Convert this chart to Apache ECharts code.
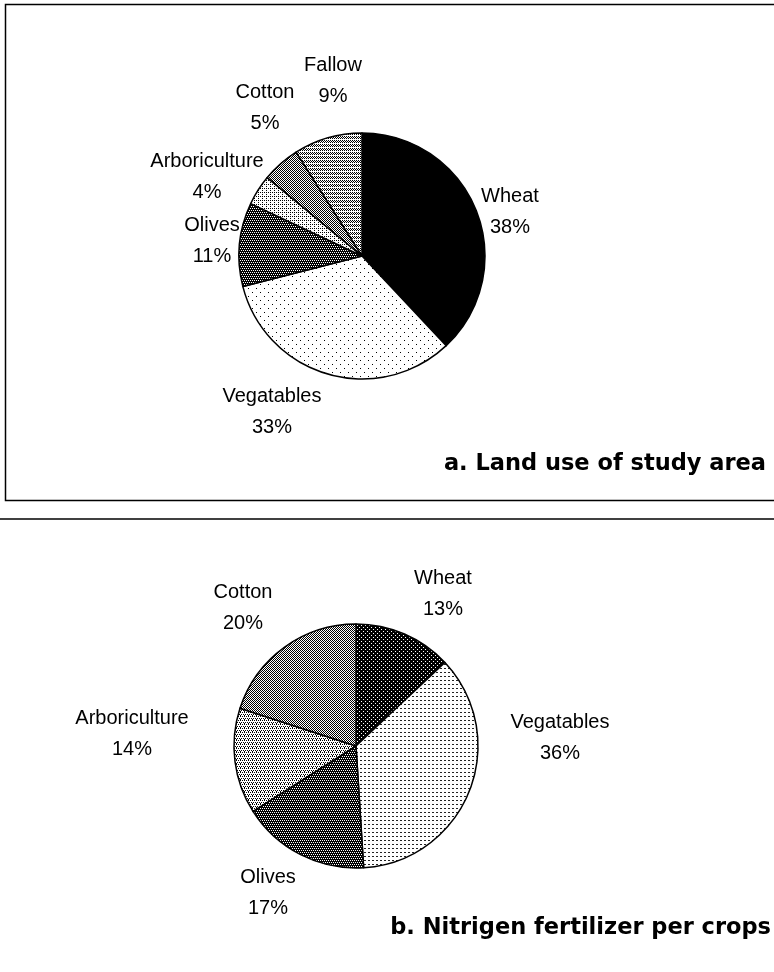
<!DOCTYPE html>
<html>
<head>
<meta charset="utf-8">
<script src="https://cdn.jsdelivr.net/npm/echarts@6/dist/echarts.min.js"></script>
<style>
html,body{margin:0;padding:0;background:#fff;}
#chart{width:774px;height:972px;}
</style>
</head>
<body>
<div id="chart"></div>
<script>
// ---- data ----
const landCategories = ['Wheat', 'Vegatables', 'Olives', 'Arboriculture', 'Cotton', 'Fallow'];
const landShares = [38, 33, 11, 4, 5, 9];
const nitroCategories = ['Wheat', 'Vegatables', 'Olives', 'Arboriculture', 'Cotton'];
const nitroShares = [13, 36, 17, 14, 20];
const titleA = 'a. Land use of study area';
const titleB = 'b. Nitrigen fertilizer per crops';

// ---- layout (positions of labels, kept separate from data) ----
const landLabelPos = [[510, 212], [272, 412], [212, 241], [207, 177], [265, 108], [333, 81]];
const nitroLabelPos = [[443, 594], [560, 738], [268, 893], [132, 734], [243, 608]];

// ---- fill patterns ----
function pattern(w, h, bg, fg, pts) {
  const c = document.createElement('canvas');
  c.width = w; c.height = h;
  const ctx = c.getContext('2d');
  ctx.fillStyle = bg; ctx.fillRect(0, 0, w, h);
  ctx.fillStyle = fg;
  pts.forEach(p => ctx.fillRect(p[0], p[1], 1, 1));
  return { image: c, repeat: 'repeat' };
}
const pSolid = '#000';
const pSparseDots = pattern(8, 8, '#fff', '#000', [[0, 0], [4, 4]]);
const pDarkDots = pattern(4, 4, '#000', '#fff', [[0, 0], [2, 0], [1, 2], [3, 2]]);
const pLightDots = pattern(4, 4, '#fff', '#000', [[0, 0], [2, 2], [2, 0]]);
const pChecker = pattern(2, 2, '#fff', '#000', [[0, 0], [1, 1]]);
const pLightChecker = pattern(4, 4, '#fff', '#000', [[0, 0], [2, 0], [1, 1], [3, 1], [0, 2], [2, 2]]);
const pDarkDash = pattern(4, 4, '#000', '#fff', [[1, 1], [3, 3]]);
const pGreyDash = pattern(4, 4, '#fff', '#222', [[0, 0], [1, 0]]);
const pStipple = pattern(4, 4, '#fff', '#000', [[0, 0], [2, 0], [1, 2], [3, 2], [0, 3]]);

const landFills = [pSolid, pSparseDots, pDarkDots, pLightDots, pChecker, pLightChecker];
const nitroFills = [pDarkDash, pGreyDash, pDarkDots, pStipple, pChecker];

const labelFont = { color: '#000', fontFamily: 'Liberation Sans, Arial, sans-serif', fontSize: 20, lineHeight: 31 };

function makeData(names, values, fills) {
  return names.map((n, i) => ({ name: n, value: values[i], itemStyle: { color: fills[i] } }));
}

const chart = echarts.init(document.getElementById('chart'), null, { renderer: 'canvas' });
chart.setOption({
  animation: false,
  backgroundColor: '#fff',
  graphic: [
    { type: 'rect', shape: { x: 5.5, y: 4.5, width: 800, height: 496 }, style: { fill: 'none', stroke: '#000', lineWidth: 1.5 }, silent: true },
    { type: 'line', shape: { x1: 0, y1: 519, x2: 774, y2: 519 }, style: { stroke: '#000', lineWidth: 1.5 }, silent: true },
    { type: 'text', style: { text: titleA, x: 766, y: 464, align: 'right', verticalAlign: 'middle', fill: '#000', font: 'bold 22.5px "DejaVu Sans"' } },
    { type: 'text', style: { text: titleB, x: 771, y: 928, align: 'right', verticalAlign: 'middle', fill: '#000', font: 'bold 22.5px "DejaVu Sans"' } }
  ],
  series: [
    {
      type: 'pie',
      center: [362, 256],
      radius: 123,
      startAngle: 90,
      clockwise: true,
      avoidLabelOverlap: false,
      itemStyle: { borderColor: '#000', borderWidth: 1.5 },
      label: Object.assign({ show: true, position: 'outside', formatter: '{b}\n{c}%', align: 'center' }, labelFont),
      labelLine: { show: false },
      labelLayout: function (p) {
        const q = landLabelPos[p.dataIndex];
        return { x: q[0], y: q[1], align: 'center', verticalAlign: 'middle' };
      },
      emphasis: { disabled: true },
      data: makeData(landCategories, landShares, landFills)
    },
    {
      type: 'pie',
      center: [356, 746],
      radius: 122,
      startAngle: 90,
      clockwise: true,
      avoidLabelOverlap: false,
      itemStyle: { borderColor: '#000', borderWidth: 1.5 },
      label: Object.assign({ show: true, position: 'outside', formatter: '{b}\n{c}%', align: 'center' }, labelFont),
      labelLine: { show: false },
      labelLayout: function (p) {
        const q = nitroLabelPos[p.dataIndex];
        return { x: q[0], y: q[1], align: 'center', verticalAlign: 'middle' };
      },
      emphasis: { disabled: true },
      data: makeData(nitroCategories, nitroShares, nitroFills)
    }
  ]
});
</script>
</body>
</html>
